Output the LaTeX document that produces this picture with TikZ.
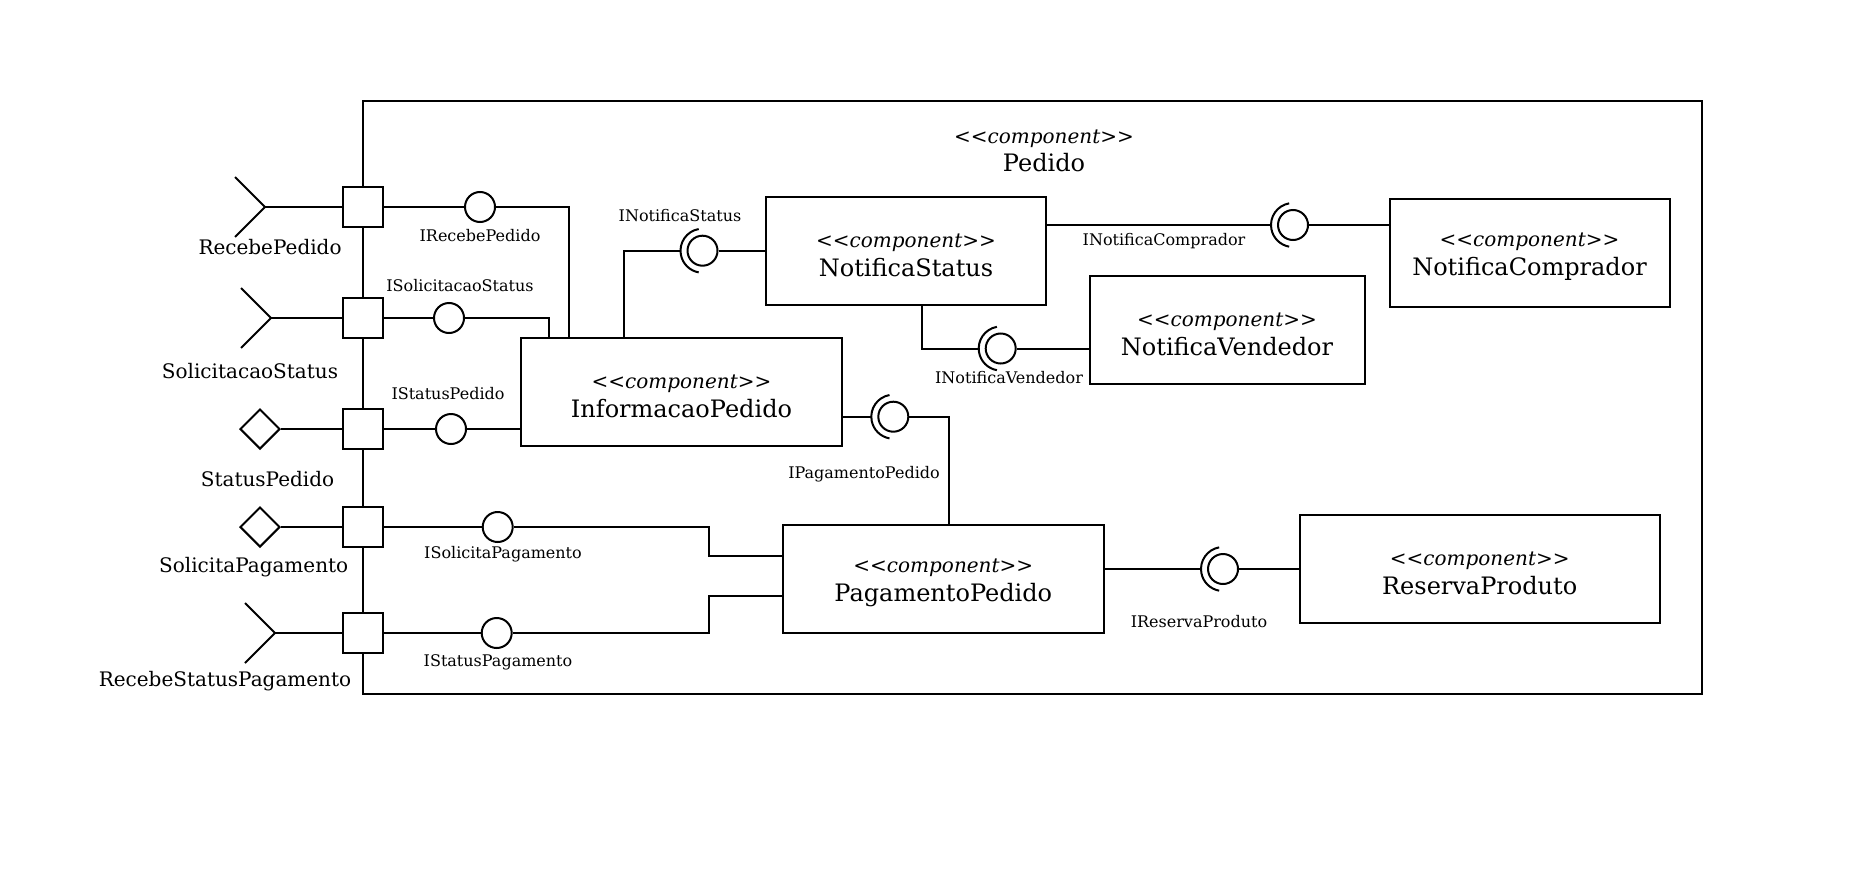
\documentclass[tikz,border=0pt]{standalone}
\usepackage{fontspec}
\setmainfont{DejaVu Serif}
\usetikzlibrary{shapes.geometric}
\newcommand{\stereo}{{\fontsize{10}{12}\selectfont\itshape\rule{0pt}{11pt}<{}<component>{}>}}

\begin{document}
\begin{tikzpicture}[x=0.5pt,y=-0.5pt,line width=1pt,
	comp/.style={draw,rectangle,align=center,minimum height=54pt,inner sep=0,font=\fontsize{12}{14.5}\selectfont},
	port/.style={draw,rectangle,fill=white,minimum size=20pt,inner sep=0},
	pin/.style={draw,diamond,fill=white,minimum size=20pt,inner sep=0},
	ball/.style={draw,circle,fill=white,minimum size=15pt,inner sep=0},
	plabel/.style={font=\fontsize{10}{12}\selectfont,inner sep=0},
	ilabel/.style={font=\fontsize{8}{10}\selectfont,inner sep=0}]
	\useasboundingbox (0,0) rectangle (1866,888);
	% outer component
	\draw (362.5,101) rectangle (1702,694);
	\node[align=center,font=\fontsize{12}{14}\selectfont] (ttl) at (1044,147) {\stereo\\Pedido};
	% inner components
	\node[comp,minimum width=160.5pt] (infoped) at (681.5,392) {\stereo\\InformacaoPedido};
	\node[comp,minimum width=140pt] (nstatus) at (906,250.7) {\stereo\\NotificaStatus};
	\node[comp,minimum width=140pt] (ncomp) at (1529.5,252.8) {\stereo\\NotificaComprador};
	\node[comp,minimum width=137.5pt] (nvend) at (1227,330) {\stereo\\NotificaVendedor};
	\node[comp,minimum width=160.4pt] (pagped) at (943.3,578.8) {\stereo\\PagamentoPedido};
	\node[comp,minimum width=180pt] (resprod) at (1479.7,568.8) {\stereo\\ReservaProduto};
	% ports
	\node[port] (p1) at (362.5,207) {};
	\node[port] (p2) at (362.5,318) {};
	\node[port] (p3) at (362.5,429) {};
	\node[port] (p4) at (362.5,527) {};
	\node[port] (p5) at (362.5,633) {};
	% outside ends
	\coordinate (w1) at (265,207);
	\coordinate (w2) at (271,318);
	\node[pin] (d3) at (260,429) {};
	\node[pin] (d4) at (260,527) {};
	\coordinate (w5) at (275,633);
	\foreach \w in {w1,w2,w5}
		\draw ([shift={(-30,-30)}]\w) -- (\w) -- ([shift={(-30,30)}]\w);
	\draw (w1) -- (p1);
	\draw (w2) -- (p2);
	\draw (d3) -- (p3);
	\draw (d4) -- (p4);
	\draw (w5) -- (p5);
	\node[plabel] (lp1) at (270,247) {RecebePedido};
	\node[plabel] (lp2) at (250,371) {SolicitacaoStatus};
	\node[plabel] (lp3) at (267.5,479) {StatusPedido};
	\node[plabel] (lp4) at (253.7,567) {SolicitaPagamento};
	\node[plabel] (lp5) at (225,681) {RecebeStatusPagamento};
	% provided interfaces of the ports
	\node[ball] (irp) at (480,207) {};
	\node[ball] (iss) at (449,318) {};
	\node[ball] (isp) at (451,429) {};
	\node[ball] (isg) at (497.7,527) {};
	\node[ball] (istp) at (496.7,633) {};
	\coordinate (k4) at (709,556);
	\coordinate (k5) at (709,596);
	\draw (p1) -- (irp);
	\draw (irp) -| ([xshift=24.5pt]infoped.north west);
	\draw (p2) -- (iss);
	\draw (iss) -| ([xshift=14.5pt]infoped.north west);
	\draw (p3) -- (isp);
	\draw (isp) -- (isp -| infoped.west);
	\draw (p4) -- (isg);
	\draw (isg) -| (k4) -- (k4 -| pagped.west);
	\draw (p5) -- (istp);
	\draw (istp) -| (k5) -- (k5 -| pagped.west);
	\node[ilabel] (lirp) at (480,236) {IRecebePedido};
	\node[ilabel] (liss) at (460,286) {ISolicitacaoStatus};
	\node[ilabel] (lisp) at (448,394) {IStatusPedido};
	\node[ilabel] (lisg) at (503,554) {ISolicitaPagamento};
	\node[ilabel] (listp) at (498,662) {IStatusPagamento};
	% assembly connectors
	\node[ball] (ins) at (702.5,250.7) {};
	\node[ball] (inc) at (1293,225) {};
	\node[ball] (inv) at (1000.7,348.5) {};
	\node[ball] (ipp) at (893.3,416.7) {};
	\node[ball] (irv) at (1223,569) {};
	\foreach \b in {ins,inc,inv,ipp,irv}
		\draw ([shift={(100:11pt)}]\b.center) arc[start angle=100,end angle=260,radius=11pt];
	\draw (ins) -- (ins -| nstatus.west);
	\draw ([xshift=-11pt]ins.center) -| ([xshift=52pt]infoped.north west);
	\draw (nstatus.east |- inc) -- ([xshift=-11pt]inc.center);
	\draw (inc) -- (inc -| ncomp.west);
	\draw ([xshift=78.5pt]nstatus.south west) |- ([xshift=-11pt]inv.center);
	\draw (inv) -- (inv -| nvend.west);
	\draw (infoped.east |- ipp) -- ([xshift=-11pt]ipp.center);
	\draw (ipp) -| ([xshift=83.5pt]pagped.north west);
	\draw (pagped.east |- irv) -- ([xshift=-11pt]irv.center);
	\draw (irv) -- (irv -| resprod.west);
	\node[ilabel] (lins) at (680,216) {INotificaStatus};
	\node[ilabel] (linc) at (1164,241) {INotificaComprador};
	\node[ilabel] (linv) at (1009,378) {INotificaVendedor};
	\node[ilabel] (lipp) at (864,474) {IPagamentoPedido};
	\node[ilabel] (lirv) at (1199,622) {IReservaProduto};
\end{tikzpicture}
\end{document}
